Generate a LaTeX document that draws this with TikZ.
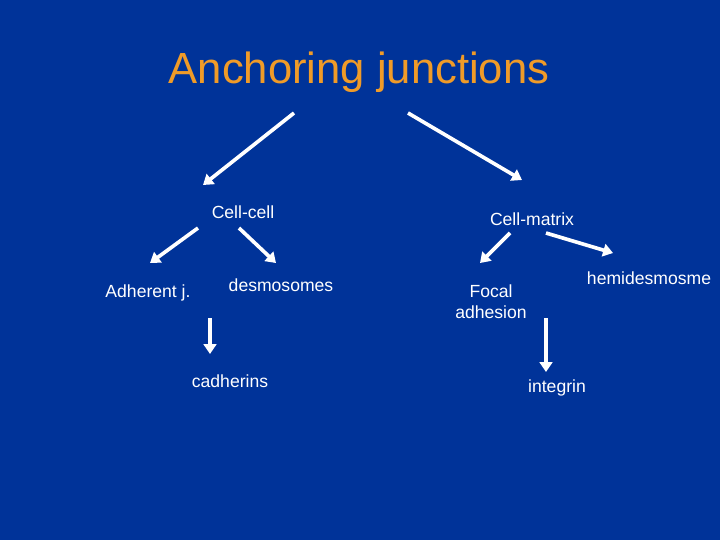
\documentclass[tikz,border=0pt]{standalone}
\usepackage{fontspec}
\setmainfont{Liberation Sans}
\usetikzlibrary{arrows.meta}
\definecolor{slideblue}{RGB}{0,51,153}
\definecolor{titleorange}{RGB}{240,155,40}
\tikzset{
  label/.style={text=white,font=\fontsize{12.5}{15}\selectfont,inner sep=0pt,anchor=base},
  arr/.style={draw=white,line width=2.6pt,-{Triangle[length=7pt,width=9pt]}}
}
\begin{document}
\begin{tikzpicture}[x=0.025cm,y=-0.025cm]
\fill[slideblue] (0,0) rectangle (720,540);
\useasboundingbox (0,0) rectangle (720,540);

\node[text=titleorange,font=\fontsize{31}{36}\selectfont,inner sep=0pt,anchor=base] (title) at (359,83) {Anchoring junctions};

\node[label] (cellcell) at (243,218) {Cell-cell};
\node[label] (cellmatrix) at (532,225) {Cell-matrix};
\node[label] (adherent) at (148,297) {Adherent j.};
\node[label] (desmo) at (281,291) {desmosomes};
\node[label] (cadherins) at (230,387) {cadherins};
\node[label,anchor=center,align=center] (focal) at (491,302) {Focal\\adhesion};
\node[label] (hemi) at (649,284) {hemidesmosme};
\node[label] (integrin) at (557,392) {integrin};

\coordinate (t1) at (294,113);
\coordinate (t2) at (203,185);
\coordinate (t3) at (408,113);
\coordinate (t4) at (522,180);
\draw[arr] (t1) -- (t2);
\draw[arr] (t3) -- (t4);

\coordinate (c1) at (198,228);
\coordinate (c2) at (150,263);
\coordinate (c3) at (239,228);
\coordinate (c4) at (276,263);
\draw[arr] (c1) -- (c2);
\draw[arr] (c3) -- (c4);

\coordinate (c5) at (210,318);
\coordinate (c6) at (210,354);
\draw[arr] (c5) -- (c6);

\coordinate (m1) at (510,233);
\coordinate (m2) at (480,263);
\coordinate (m3) at (546,233);
\coordinate (m4) at (613,253);
\draw[arr] (m1) -- (m2);
\draw[arr] (m3) -- (m4);

\coordinate (m5) at (546,318);
\coordinate (m6) at (546,372);
\draw[arr] (m5) -- (m6);
\end{tikzpicture}
\end{document}
